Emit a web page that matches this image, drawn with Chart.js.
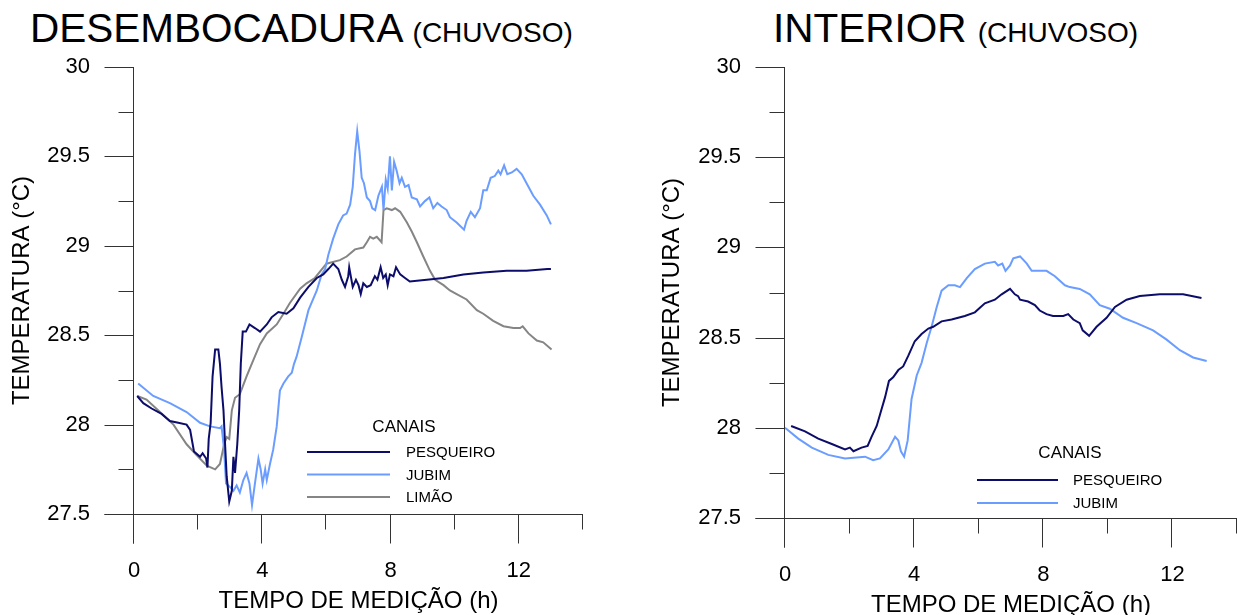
<!DOCTYPE html>
<html>
<head>
<meta charset="utf-8">
<script src="https://cdn.jsdelivr.net/npm/chart.js@4.4.1/dist/chart.umd.min.js"></script>
<style>
  html, body { margin: 0; padding: 0; background: #fff; overflow: hidden; }
  body { width: 1237px; height: 615px; position: relative; font-family: "Liberation Sans", Arial, sans-serif; }
  .titulo { position: absolute; top: 8px; white-space: nowrap; color: #000; font-size: 40.5px; line-height: 40px; }
  .titulo span { font-size: 28px; }
  .box { position: absolute; top: 0; height: 615px; }
</style>
</head>
<body>
<div class="titulo" style="left:30px">DESEMBOCADURA <span>(CHUVOSO)</span></div>
<div class="titulo" style="left:773px">INTERIOR <span>(CHUVOSO)</span></div>
<div class="box" style="left:0;width:620px"><canvas id="desChart"></canvas></div>
<div class="box" style="left:620px;width:617px"><canvas id="intChart"></canvas></div>

<script>
// ticks
const yTicks = [27.5, 28, 28.5, 29, 29.5, 30];
const yMinor = [27.75, 28.25, 28.75, 29.25, 29.75];
const xTicks = [0, 4, 8, 12];
const xMinor = [2, 6, 10, 14];

// DESEMBOCADURA - Pesqueiro
const desPesqX = [0.1, 0.29, 0.55, 0.86, 1.12, 1.38, 1.64, 1.75, 1.87, 2.06, 2.14, 2.25, 2.29, 2.33, 2.39, 2.45, 2.53, 2.63, 2.68, 2.73, 2.79, 2.84, 2.89, 2.97, 3.05, 3.1, 3.15, 3.22, 3.28, 3.33, 3.39, 3.49, 3.6, 3.77, 3.93, 4.14, 4.29, 4.5, 4.76, 4.97, 5.18, 5.44, 5.7, 5.9, 6.06, 6.21, 6.37, 6.48, 6.58, 6.68, 6.71, 6.82, 6.92, 7.0, 7.07, 7.15, 7.26, 7.38, 7.51, 7.59, 7.69, 7.77, 7.85, 7.91, 7.98, 8.09, 8.17, 8.3, 8.45, 8.6, 9.13, 9.65, 10.27, 10.89, 11.62, 12.24, 12.89, 13.0];
const desPesqY = [28.16, 28.12, 28.09, 28.06, 28.02, 28.01, 28.0, 27.97, 27.85, 27.82, 27.84, 27.81, 27.76, 27.92, 28.01, 28.27, 28.42, 28.42, 28.34, 28.21, 28.08, 27.89, 27.71, 27.57, 27.63, 27.82, 27.73, 27.89, 28.08, 28.34, 28.52, 28.52, 28.56, 28.54, 28.52, 28.56, 28.6, 28.63, 28.62, 28.65, 28.71, 28.77, 28.82, 28.84, 28.87, 28.9, 28.87, 28.81, 28.77, 28.83, 28.88, 28.77, 28.81, 28.78, 28.73, 28.79, 28.77, 28.78, 28.83, 28.81, 28.88, 28.82, 28.84, 28.78, 28.84, 28.83, 28.88, 28.84, 28.82, 28.8, 28.81, 28.82, 28.84, 28.85, 28.86, 28.86, 28.87, 28.87];

// DESEMBOCADURA - Jubim
const desJubimX = [0.13, 0.6, 1.12, 1.64, 2.06, 2.37, 2.68, 2.73, 2.81, 2.87, 3.0, 3.1, 3.2, 3.3, 3.41, 3.51, 3.6, 3.68, 3.77, 3.88, 3.95, 4.01, 4.09, 4.14, 4.24, 4.34, 4.45, 4.55, 4.66, 4.81, 4.92, 4.99, 5.07, 5.23, 5.44, 5.7, 5.85, 5.96, 6.06, 6.21, 6.37, 6.52, 6.63, 6.74, 6.82, 6.89, 6.96, 7.03, 7.1, 7.17, 7.26, 7.36, 7.43, 7.52, 7.62, 7.73, 7.78, 7.85, 7.91, 7.98, 8.04, 8.11, 8.19, 8.28, 8.35, 8.45, 8.56, 8.66, 8.82, 8.92, 9.07, 9.21, 9.33, 9.46, 9.59, 9.75, 9.85, 10.06, 10.29, 10.37, 10.5, 10.63, 10.79, 10.89, 11.0, 11.12, 11.25, 11.36, 11.43, 11.54, 11.64, 11.78, 11.93, 12.09, 12.24, 12.45, 12.66, 12.87, 13.0];
const desJubimY = [28.23, 28.16, 28.12, 28.07, 28.01, 27.99, 27.98, 27.99, 27.86, 27.67, 27.65, 27.63, 27.66, 27.62, 27.69, 27.73, 27.67, 27.55, 27.67, 27.81, 27.75, 27.67, 27.75, 27.69, 27.78, 27.86, 27.99, 28.19, 28.23, 28.27, 28.29, 28.34, 28.38, 28.49, 28.64, 28.75, 28.84, 28.87, 28.95, 29.04, 29.12, 29.17, 29.18, 29.23, 29.33, 29.51, 29.64, 29.53, 29.38, 29.35, 29.27, 29.25, 29.21, 29.2, 29.28, 29.33, 29.2, 29.37, 29.32, 29.5, 29.31, 29.47, 29.42, 29.35, 29.38, 29.33, 29.34, 29.27, 29.26, 29.22, 29.25, 29.27, 29.21, 29.24, 29.22, 29.2, 29.16, 29.13, 29.09, 29.14, 29.19, 29.16, 29.21, 29.31, 29.31, 29.38, 29.39, 29.42, 29.4, 29.45, 29.4, 29.41, 29.43, 29.4, 29.35, 29.28, 29.23, 29.17, 29.12];

// DESEMBOCADURA - Limão
const desLimaoX = [0.1, 0.39, 0.81, 1.23, 1.64, 1.95, 2.27, 2.53, 2.68, 2.81, 2.89, 2.97, 3.05, 3.15, 3.3, 3.51, 3.72, 3.93, 4.14, 4.45, 4.66, 4.86, 5.18, 5.38, 5.64, 6.0, 6.42, 6.63, 6.89, 7.15, 7.26, 7.36, 7.46, 7.57, 7.72, 7.78, 7.88, 8.04, 8.14, 8.3, 8.51, 8.66, 8.82, 9.02, 9.23, 9.39, 9.65, 9.85, 10.06, 10.37, 10.69, 10.89, 11.2, 11.52, 11.83, 12.04, 12.12, 12.3, 12.56, 12.76, 13.02];
const desLimaoY = [28.16, 28.14, 28.07, 28.0, 27.89, 27.83, 27.77, 27.75, 27.78, 27.89, 27.93, 27.92, 28.08, 28.15, 28.17, 28.27, 28.36, 28.45, 28.51, 28.56, 28.62, 28.68, 28.76, 28.79, 28.82, 28.9, 28.92, 28.94, 28.98, 28.99, 29.02, 29.05, 29.04, 29.05, 29.02, 29.2, 29.21, 29.2, 29.21, 29.19, 29.13, 29.08, 29.02, 28.94, 28.86, 28.81, 28.78, 28.75, 28.73, 28.7, 28.64, 28.62, 28.58, 28.55, 28.54, 28.54, 28.55, 28.51, 28.47, 28.46, 28.42];

// INTERIOR - Pesqueiro
const intPesqX = [0.19, 0.62, 1.03, 1.45, 1.86, 2.01, 2.12, 2.37, 2.56, 2.68, 2.84, 2.97, 3.1, 3.22, 3.35, 3.51, 3.66, 3.82, 4.02, 4.23, 4.44, 4.59, 4.85, 5.16, 5.57, 5.88, 6.19, 6.5, 6.71, 6.97, 7.12, 7.22, 7.28, 7.53, 7.74, 7.89, 8.1, 8.3, 8.62, 8.77, 8.93, 9.13, 9.22, 9.42, 9.65, 9.96, 10.22, 10.58, 10.99, 11.61, 12.33, 12.9];
const intPesqY = [28.01, 27.98, 27.94, 27.91, 27.88, 27.89, 27.87, 27.89, 27.9, 27.95, 28.01, 28.09, 28.17, 28.26, 28.28, 28.32, 28.34, 28.4, 28.48, 28.52, 28.55, 28.56, 28.59, 28.6, 28.62, 28.64, 28.69, 28.71, 28.74, 28.77, 28.74, 28.73, 28.71, 28.7, 28.68, 28.65, 28.63, 28.62, 28.62, 28.63, 28.6, 28.58, 28.54, 28.51, 28.56, 28.61, 28.67, 28.71, 28.73, 28.74, 28.74, 28.72];

// INTERIOR - Jubim
const intJubimX = [0.0, 0.41, 0.83, 1.34, 1.86, 2.48, 2.73, 2.94, 3.2, 3.41, 3.51, 3.59, 3.69, 3.8, 3.92, 4.08, 4.23, 4.39, 4.54, 4.7, 4.85, 5.06, 5.26, 5.42, 5.63, 5.88, 6.19, 6.5, 6.6, 6.73, 6.83, 6.97, 7.07, 7.28, 7.49, 7.64, 8.1, 8.36, 8.67, 8.82, 9.13, 9.44, 9.75, 10.06, 10.47, 10.89, 11.4, 11.81, 12.23, 12.64, 13.06];
const intJubimY = [28.0, 27.94, 27.89, 27.85, 27.83, 27.84, 27.82, 27.83, 27.88, 27.95, 27.93, 27.87, 27.84, 27.93, 28.16, 28.29, 28.36, 28.47, 28.56, 28.67, 28.76, 28.79, 28.79, 28.78, 28.83, 28.88, 28.91, 28.92, 28.9, 28.91, 28.87, 28.9, 28.94, 28.95, 28.91, 28.87, 28.87, 28.84, 28.79, 28.78, 28.77, 28.74, 28.68, 28.66, 28.61, 28.58, 28.54, 28.49, 28.43, 28.39, 28.37];

const FONT = "'Liberation Sans', Arial, sans-serif";
const COR_PESQ = '#0c0c6a';
const COR_JUBIM = '#6a9dff';
const COR_LIMAO = '#858585';

function pts(xs, ys) {
  return xs.map((x, i) => ({ x: x, y: ys[i] }));
}

function serie(label, xs, ys, cor) {
  return {
    label: label,
    data: pts(xs, ys),
    borderColor: cor,
    backgroundColor: cor,
    borderWidth: 2,
    pointRadius: 0,
    tension: 0,
    fill: false
  };
}

// axis lines and tick marks, crossing like in the original plot
const eixosPlugin = {
  id: 'eixos',
  afterDraw(chart) {
    const { ctx, chartArea: a, scales: { x, y } } = chart;
    const maj = 29, men = 15;
    const ax = Math.round(a.left) - 0.5;
    const ay = Math.round(a.bottom) + 0.5;
    ctx.save();
    ctx.strokeStyle = '#333';
    ctx.lineWidth = 1;
    ctx.beginPath();
    ctx.moveTo(ax, Math.round(y.getPixelForValue(30)));
    ctx.lineTo(ax, ay + maj);
    ctx.moveTo(ax - maj, ay);
    ctx.lineTo(Math.round(x.getPixelForValue(14)), ay);
    yTicks.forEach(v => {
      const py = Math.round(y.getPixelForValue(v)) + 0.5;
      ctx.moveTo(ax - maj, py); ctx.lineTo(ax, py);
    });
    yMinor.forEach(v => {
      const py = Math.round(y.getPixelForValue(v)) + 0.5;
      ctx.moveTo(ax - men, py); ctx.lineTo(ax, py);
    });
    xTicks.forEach(v => {
      const px = Math.round(x.getPixelForValue(v)) - 0.5;
      ctx.moveTo(px, ay); ctx.lineTo(px, ay + maj);
    });
    xMinor.forEach(v => {
      const px = Math.min(Math.round(x.getPixelForValue(v)) - 0.5, a.right - 0.5);
      ctx.moveTo(px, ay); ctx.lineTo(px, ay + men);
    });
    ctx.stroke();
    ctx.restore();
  }
};

// legend box "CANAIS"
const canaisPlugin = {
  id: 'canais',
  afterDatasetsDraw(chart, args, o) {
    const ctx = chart.ctx;
    ctx.save();
    ctx.fillStyle = '#000';
    ctx.textBaseline = 'middle';
    ctx.textAlign = 'center';
    ctx.font = '17px ' + FONT;
    ctx.fillText('CANAIS', o.titleX, o.titleY);
    ctx.textAlign = 'left';
    ctx.font = '15px ' + FONT;
    chart.data.datasets.forEach((ds, i) => {
      const yy = o.y0 + i * o.dy;
      ctx.strokeStyle = ds.borderColor;
      ctx.lineWidth = 2;
      ctx.beginPath();
      ctx.moveTo(o.x1, yy);
      ctx.lineTo(o.x2, yy);
      ctx.stroke();
      ctx.fillText(ds.label, o.textX, yy + 1);
    });
    ctx.restore();
  }
};

function makeChart(id, datasets, cfg) {
  return new Chart(document.getElementById(id), {
    type: 'line',
    data: { datasets: datasets },
    plugins: [eixosPlugin, canaisPlugin],
    options: {
      responsive: true,
      maintainAspectRatio: false,
      animation: false,
      layout: { padding: { top: 67, right: cfg.padRight, bottom: 0, left: 0 } },
      plugins: {
        legend: { display: false },
        tooltip: { enabled: false },
        canais: cfg.legenda
      },
      scales: {
        x: {
          type: 'linear',
          min: 0,
          max: 14,
          afterFit: s => { s.height = cfg.xHeight; s.paddingRight = 0; s.paddingLeft = 0; },
          grid: { display: true, drawOnChartArea: false, drawTicks: true, tickLength: 29, color: 'transparent' },
          border: { display: false },
          ticks: {
            stepSize: 2,
            autoSkip: false,
            maxRotation: 0,
            padding: 15,
            color: '#000',
            font: { family: FONT, size: 22 },
            callback: v => xTicks.includes(v) ? String(v) : ''
          },
          title: {
            display: true,
            text: 'TEMPO DE MEDIÇÃO (h)',
            color: '#000',
            font: { family: FONT, size: 24 },
            padding: { top: 0, bottom: cfg.xTitlePad }
          }
        },
        y: {
          min: 27.5,
          max: 30,
          afterFit: s => { s.width = cfg.yWidth; },
          grid: { display: true, drawOnChartArea: false, drawTicks: true, tickLength: 29, color: 'transparent' },
          border: { display: false },
          ticks: {
            stepSize: 0.5,
            padding: 15,
            color: '#000',
            font: { family: FONT, size: 22 },
            callback: v => yTicks.includes(v) ? String(v) : ''
          },
          title: {
            display: true,
            text: 'TEMPERATURA (°C)',
            color: '#000',
            font: { family: FONT, size: 24 },
            padding: { top: cfg.yTitlePad, bottom: 0 }
          }
        }
      }
    }
  });
}

makeChart('desChart', [
  serie('PESQUEIRO', desPesqX, desPesqY, COR_PESQ),
  serie('JUBIM', desJubimX, desJubimY, COR_JUBIM),
  serie('LIMÃO', desLimaoX, desLimaoY, COR_LIMAO)
], {
  padRight: 37, xHeight: 101, yWidth: 134, xTitlePad: -1, yTitlePad: 8,
  legenda: { titleX: 404, titleY: 427, x1: 307, x2: 390, textX: 406, y0: 452, dy: 22.5 }
});

makeChart('intChart', [
  serie('PESQUEIRO', intPesqX, intPesqY, COR_PESQ),
  serie('JUBIM', intJubimX, intJubimY, COR_JUBIM)
], {
  padRight: 0, xHeight: 97, yWidth: 165, xTitlePad: -5, yTitlePad: 37.6,
  legenda: { titleX: 450, titleY: 453, x1: 357, x2: 438, textX: 453, y0: 480, dy: 23 }
});
</script>
</body>
</html>
